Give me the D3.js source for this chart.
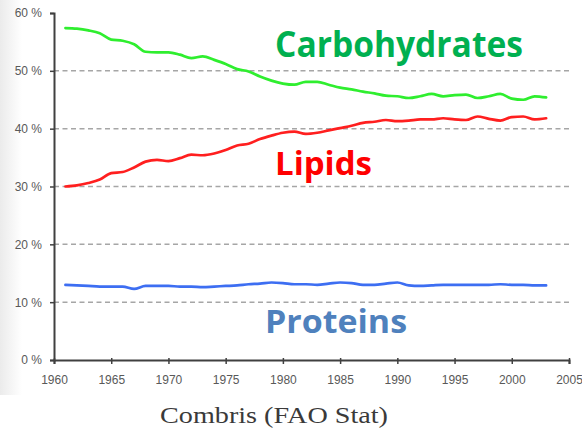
<!DOCTYPE html>
<html><head><meta charset="utf-8">
<script src="https://cdn.jsdelivr.net/npm/d3@7"></script>
<style>html,body{margin:0;padding:0;background:#fff;}svg{display:block;}</style>
</head><body>
<svg id="chart" width="582" height="431"></svg>
<script>
const years = d3.range(1961, 2004);
const carbohydrates = [57.4,57.3,57.0,56.5,55.4,55.2,54.6,53.3,53.2,53.2,52.8,52.2,52.5,51.9,51.2,50.3,49.9,49.0,48.3,47.8,47.6,48.1,48.1,47.6,47.1,46.8,46.4,46.1,45.7,45.6,45.3,45.6,46.0,45.6,45.8,45.9,45.3,45.6,46.0,45.2,45.0,45.6,45.4];
const lipids = [30.0,30.2,30.6,31.2,32.3,32.5,33.3,34.3,34.6,34.4,34.9,35.5,35.4,35.7,36.3,37.1,37.4,38.2,38.8,39.3,39.5,39.1,39.3,39.7,40.1,40.5,41.0,41.2,41.5,41.3,41.4,41.6,41.6,41.8,41.6,41.5,42.1,41.7,41.4,42.0,42.1,41.6,41.8];
const proteins = [13.0,12.9,12.8,12.7,12.7,12.7,12.3,12.8,12.8,12.8,12.7,12.7,12.6,12.7,12.8,12.9,13.1,13.2,13.4,13.3,13.1,13.1,13.0,13.2,13.4,13.3,13.0,13.0,13.2,13.4,12.9,12.8,12.9,13.0,13.0,13.0,13.0,13.0,13.1,13.0,13.0,12.9,12.9];
const xTicks = [1960,1965,1970,1975,1980,1985,1990,1995,2000,2005];
const yTicks = [0,10,20,30,40,50,60];
const seriesNames = ["Carbohydrates","Lipids","Proteins"];
const source = "Combris (FAO Stat)";

const svg = d3.select("#chart");
const defs = svg.append("defs");
const grad = defs.append("linearGradient").attr("id","lg").attr("x1","0").attr("x2","1");
grad.append("stop").attr("offset","0").attr("stop-color","#ebebeb");
grad.append("stop").attr("offset","1").attr("stop-color","#ffffff");
svg.append("rect").attr("x",0).attr("y",0).attr("width",22).attr("height",395).attr("fill","url(#lg)");

const x = d3.scaleLinear().domain([1960,2005]).range([54,569]);
const y = d3.scaleLinear().domain([0,60]).range([360,13]);

// gridlines
svg.append("g").selectAll("line").data(yTicks.filter(d=>d>0 && d<60)).join("line")
  .attr("x1",x(1960)).attr("x2",x(2005)).attr("y1",d=>y(d)).attr("y2",d=>y(d))
  .attr("stroke","#a6a6a6").attr("stroke-width",1.5).attr("stroke-dasharray","5,3.5");

// axes
const yAxis = d3.axisLeft(y).tickValues(yTicks).tickFormat(d=>d+" %").tickSize(4).tickPadding(8);
const gy = svg.append("g").attr("transform",`translate(${x(1960)},0)`).call(yAxis);
const xAxis = d3.axisBottom(x).tickValues(xTicks).tickFormat(d3.format("d")).tickSize(4).tickPadding(11);
const gx = svg.append("g").attr("transform",`translate(0,${y(0)})`).call(xAxis);
[gx,gy].forEach(g=>{
  g.select(".domain").attr("stroke","#404040").attr("stroke-width",2);
  g.selectAll(".tick line").attr("stroke","#404040").attr("stroke-width",1.5);
  g.selectAll(".tick text").attr("fill","#595959").attr("font-family","Liberation Sans, Arial, sans-serif").attr("font-size",12);
});
gx.selectAll(".tick line").attr("y1",-2);

// lines
const line = d3.line().x(d=>x(d[0])).y(d=>y(d[1])).curve(d3.curveMonotoneX);
const data = [
  {name:seriesNames[0], vals:carbohydrates, color:"#2fee2f"},
  {name:seriesNames[1], vals:lipids, color:"#ff1f1f"},
  {name:seriesNames[2], vals:proteins, color:"#3d6ef2"}
];
svg.append("g").selectAll("path").data(data).join("path")
  .attr("d",d=>line(years.map((yr,i)=>[yr,d.vals[i]])))
  .attr("fill","none").attr("stroke",d=>d.color).attr("stroke-width",2.7)
  .attr("stroke-linejoin","round").attr("stroke-linecap","round");

// labels
const labels = [
  {t:seriesNames[0], x:275, y:57, w:248, fs:35, c:"#00b050"},
  {t:seriesNames[1], x:275, y:175, w:97, fs:32.5, c:"#ff0000"},
  {t:seriesNames[2], x:265, y:333, w:142, fs:32.5, c:"#4f81bd"}
];
svg.append("g").selectAll("text").data(labels).join("text")
  .attr("x",d=>d.x).attr("y",d=>d.y).text(d=>d.t)
  .attr("fill",d=>d.c).attr("font-family","Open Sans, Liberation Sans, sans-serif")
  .attr("font-weight","bold").attr("font-size",d=>d.fs)
  .attr("textLength",d=>d.w).attr("lengthAdjust","spacingAndGlyphs");

svg.append("text").attr("x",160).attr("y",423).text(source)
  .attr("fill","#3a3a3a").attr("font-family","Liberation Serif, Times New Roman, serif")
  .attr("font-size",23).attr("textLength",228).attr("lengthAdjust","spacingAndGlyphs");
</script>
</body></html>
